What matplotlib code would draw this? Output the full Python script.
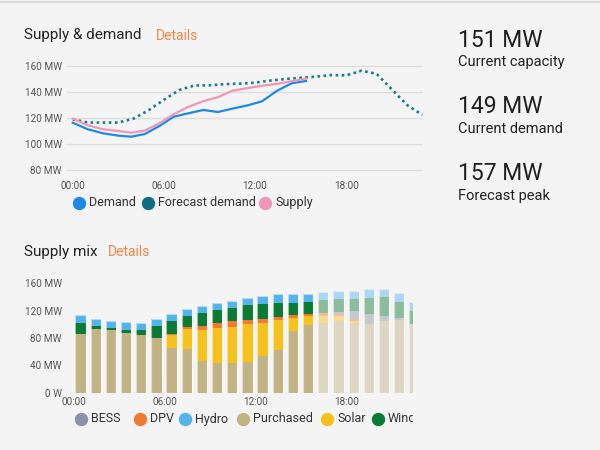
import numpy as np
import matplotlib
matplotlib.use('Agg')
import matplotlib.pyplot as plt
from matplotlib.lines import Line2D
from matplotlib.colors import to_rgba
from matplotlib.transforms import Bbox, TransformedBbox

plt.rcParams['font.family'] = ['Roboto', 'DejaVu Sans']

# --- supply & demand (MW), time in hours ---
line_hours = [0, 1, 2, 3, 3.85, 4.75, 5.7, 6.65, 7.6, 8.6, 9.55, 10.5, 11.5, 12.45, 13.45, 14.4, 15.35]
demand = [116.4, 111.3, 108.2, 106.4, 105.6, 107.7, 113.8, 121.0, 123.6, 126.2, 124.6, 127.2, 129.7, 132.8,
          141.0, 146.7, 148.5]
supply = [119.5, 114.4, 111.3, 110.0, 108.7, 110.3, 115.9, 123.0, 128.5, 133.0, 136.0, 141.0, 143.0, 144.8,
          146.3, 148.3, 150.3]
forecast_hours = list(range(24))
forecast_demand = [119.0, 116.5, 116.5, 116.5, 119.5, 126.0, 134.0, 141.5, 145.0, 145.2, 146.0, 146.5,
                   147.2, 148.8, 150.0, 151.0, 151.8, 153.0, 152.8, 156.4, 154.0, 142.0, 130.0, 122.5]

# --- supply mix (MW per hour) ---
purchased = [85.6, 92.7, 91.2, 87.8, 84.8, 79.5, 64.9, 63.4, 46.4, 43.0, 43.9, 45.3, 54.1, 62.9, 90.2, 99.0,
             101.5, 104.9, 102.4, 101.0, 104.9, 106.3, 100.0]
solar = [0, 0, 0, 0, 0, 0, 19.0, 29.3, 45.3, 52.1, 52.6, 55.6, 48.3, 43.4, 18.6, 12.7,
         10.7, 7.7, 2.5, 0, 0, 0, 0]
dpv = [0, 0, 0, 0, 0, 0, 1.9, 2.9, 6.3, 7.3, 8.4, 5.9, 5.4, 4.9, 4.4, 2.9,
       4.8, 2.0, 3.4, 0, 0, 0, 0]
bess = [0, 0, 0, 0, 0, 0, 0, 0, 0, 0, 0, 0, 0, 0, 0, 0,
        0, 3.4, 11.2, 13.6, 7.7, 3.0, 0]
wind = [16.8, 5.3, 3.0, 4.4, 6.4, 17.6, 19.1, 17.0, 18.6, 19.0, 19.0, 21.0, 21.9, 20.4, 18.4, 17.6,
        18.6, 19.0, 17.5, 24.3, 26.9, 23.4, 19.9]
hydro = [11.7, 9.8, 10.7, 10.8, 11.2, 10.2, 10.6, 10.3, 10.6, 10.2, 10.7, 10.2, 11.7, 12.3, 12.3, 12.1,
         12.1, 12.2, 11.7, 12.3, 12.6, 12.7, 12.3]
n_actual = 16

kpi_values = ['151 MW', '149 MW', '157 MW']
kpi_labels = ['Current capacity', 'Current demand', 'Forecast peak']

BG = '#f4f4f4'
ORANGE = '#ef8443'
C_DEMAND = '#1e88e5'
C_FORECAST = '#0e6e80'
C_FORECAST_DOT = '#1a7d93'
C_SUPPLY = '#ef97b7'
mix_colors = {'BESS': '#8c93a8', 'DPV': '#f27a30', 'Hydro': '#53b4ec',
              'Purchased': '#c2b385', 'Solar': '#f5c11a', 'Wind': '#0b7a34'}

W, H = 600, 450
fig = plt.figure(figsize=(6, 4.5), dpi=100, facecolor=BG)


def fx(px):
    return px / W


def fy(py):
    return 1 - py / H


fig.add_artist(Line2D([0, 1], [fy(1.5)] * 2, color='#d9d9d9', lw=1.5, transform=fig.transFigure))


def legend_item(cx, py, color, label, clip=None):
    fig.add_artist(Line2D([fx(cx)], [fy(py)], marker='o', markersize=8.6, color=color, lw=0,
                          transform=fig.transFigure))
    t = fig.text(fx(cx + 10), fy(py), label, fontsize=9, color='#333333', va='center', ha='left')
    if clip is not None:
        t.set_clip_box(clip)
        t.set_clip_on(True)


def style_axes(ax):
    ax.set_facecolor(BG)
    for s in ax.spines.values():
        s.set_visible(False)
    ax.tick_params(length=0, labelsize=7.2, labelcolor='#555555')


# ---------------- top chart ----------------
fig.text(fx(24), fy(39.5), 'Supply & demand', fontsize=11, color='#222222', va='baseline')
fig.text(fx(156), fy(39.5), 'Details', fontsize=10, color=ORANGE, va='baseline')

ax1 = fig.add_axes([fx(67), fy(174), 356 / W, 112 / H])
style_axes(ax1)
ax1.set_ylim(76.9, 163.1)
ax1.set_xlim(-0.375, 23.05)
ax1.set_yticks([80, 100, 120, 140, 160])
ax1.set_yticklabels(['80 MW', '100 MW', '120 MW', '140 MW', '160 MW'])
ax1.set_xticks([0, 6, 12, 18])
ax1.set_xticklabels(['00:00', '06:00', '12:00', '18:00'])
ax1.tick_params(axis='y', pad=3.6)
ax1.tick_params(axis='x', pad=5)
ax1.grid(axis='y', color='#dedede', lw=1)
ax1.set_axisbelow(True)
ax1.plot(forecast_hours, forecast_demand, color=C_FORECAST_DOT, lw=1.9, linestyle=(0, (1, 1.3)))
ax1.plot(line_hours, demand, color=C_DEMAND, lw=1.6)
ax1.plot(line_hours, supply, color=C_SUPPLY, lw=1.6)

legend_item(78.7, 202.7, C_DEMAND, 'Demand')
legend_item(148, 202.7, C_FORECAST, 'Forecast demand')
legend_item(265, 202.7, C_SUPPLY, 'Supply')

# ---------------- KPIs ----------------
for i, (v, lab) in enumerate(zip(kpi_values, kpi_labels)):
    base = 46.7 + i * 66.7
    fig.text(fx(458), fy(base), v, fontsize=16.5, color='#1f1f1f', va='baseline')
    fig.text(fx(458), fy(base + 19.5), lab, fontsize=10.5, color='#222222', va='baseline')

# ---------------- bottom chart ----------------
fig.text(fx(24), fy(256), 'Supply mix', fontsize=11, color='#222222', va='baseline')
fig.text(fx(108), fy(256), 'Details', fontsize=10, color=ORANGE, va='baseline')

ax2 = fig.add_axes([fx(67), fy(392.7), (413 - 67) / W, 114.9 / H])
style_axes(ax2)
ax2.set_ylim(0, 168)
ax2.set_xlim(-0.45, 22.35)
ax2.set_yticks([0, 40, 80, 120, 160])
ax2.set_yticklabels(['0 W', '40 MW', '80 MW', '120 MW', '160 MW'])
ax2.set_xticks([0, 6, 12, 18])
ax2.set_xticklabels(['00:00', '06:00', '12:00', '18:00'])
ax2.tick_params(axis='y', pad=3.6)
ax2.tick_params(axis='x', pad=3.2)

hours = np.arange(len(purchased))
stack = [('Purchased', purchased), ('Solar', solar), ('DPV', dpv), ('BESS', bess),
         ('Wind', wind), ('Hydro', hydro)]
bottom = np.zeros(len(hours))
for name, vals in stack:
    vals = np.array(vals, dtype=float)
    cols = [to_rgba(mix_colors[name], 1.0 if i < n_actual else 0.45) for i in range(len(hours))]
    ax2.bar(hours + 0.1, vals, width=0.68, bottom=bottom, align='edge', color=cols, lw=0)
    bottom += vals
ax2.bar(hours + 0.1, bottom, width=0.68, align='edge', fill=False, edgecolor=(1, 1, 1, 0.55), lw=0.8)

clip = TransformedBbox(Bbox([[0, 0], [413 / W, 1]]), fig.transFigure)
legend_x = {'BESS': 81, 'DPV': 140, 'Hydro': 184.5, 'Purchased': 243, 'Solar': 327, 'Wind': 378}
for name, cx in legend_x.items():
    legend_item(cx, 419, mix_colors[name], name, clip=clip)

fig.savefig('out.png', dpi=100, facecolor=BG)
